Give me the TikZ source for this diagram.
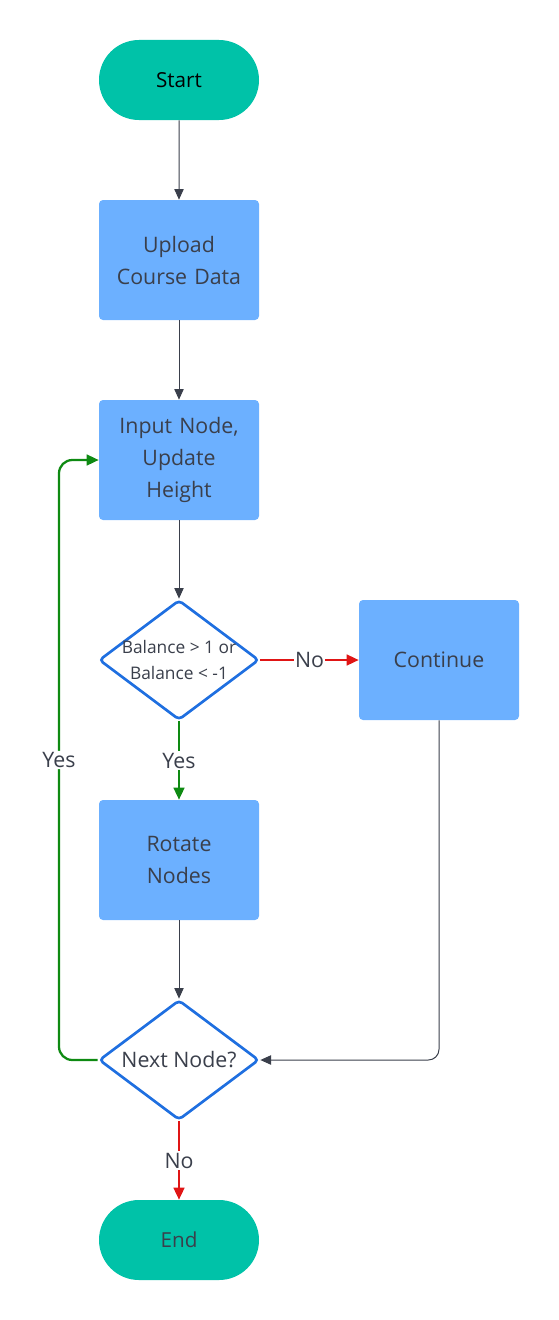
\documentclass[tikz,border=0pt]{standalone}
\usepackage{fontspec}
\setmainfont{Open Sans}
\usetikzlibrary{shapes.geometric,shapes.misc,arrows.meta}
\definecolor{teal}{HTML}{00C2A8}
\definecolor{boxblue}{HTML}{6CB0FF}
\definecolor{dborder}{HTML}{1F6FE0}
\definecolor{txt}{HTML}{3A3F4B}
\definecolor{gline}{HTML}{0E8A12}
\definecolor{rline}{HTML}{E01515}
\tikzset{
  term/.style={rounded rectangle, fill=teal, minimum width=120pt, minimum height=60pt, inner sep=0pt, font=\fontsize{15.5}{18}\selectfont, text=txt},
  procbox/.style={rectangle, rounded corners=3pt, fill=boxblue, minimum width=120pt, minimum height=90pt, inner sep=0pt, text width=115pt, align=center, font=\fontsize{16}{24}\selectfont, text=txt},
  decision/.style={diamond, draw=dborder, line width=2pt, fill=white, rounded corners=3pt, minimum width=120pt, minimum height=90pt, inner sep=0pt},
  dtext/.style={align=center, text=txt, inner sep=0pt},
  conn/.style={draw=txt, line width=0.75pt, -{Triangle[length=8pt,width=7pt]}},
  yesline/.style={draw=gline, line width=1.7pt, -{Triangle[length=9pt,width=8pt]}},
  noline/.style={draw=rline, line width=1.7pt, -{Triangle[length=9pt,width=8pt]}},
  lbl/.style={fill=white, inner sep=1pt, text=txt, font=\fontsize{16}{18}\selectfont},
}
\begin{document}
\begin{tikzpicture}[x=0.75pt,y=-0.75pt]
\useasboundingbox (0,0) rectangle (559,1320);
\node[term, text=black] (start) at (179,80) {Start};
\node[procbox] (upload) at (179,260) {Upload\\Course Data};
\node[procbox] (input) at (179,460) {Input Node,\\Update\\Height};
\node[decision] (bal) at (179,660) {};
\node[dtext, font=\fontsize{13}{19}\selectfont] (baltext) at (bal.center) {Balance > 1 or\\Balance < -1};
\node[procbox] (cont) at (439,660) {Continue};
\node[procbox] (rot) at (179,860) {Rotate\\Nodes};
\node[decision] (next) at (179,1060) {};
\node[dtext, font=\fontsize{16}{18}\selectfont] (nexttext) at (next.center) {Next Node?};
\node[term] (end) at (179,1240) {End};
\coordinate (c1) at (439,1060);
\coordinate (c2) at (59,1060);
\coordinate (c3) at (59,460);

\draw[conn] (start) -- (upload);
\draw[conn] (upload) -- (input);
\draw[conn] (input) -- (bal);
\draw[noline] (bal.east) -- node[lbl]{No} (cont.west);
\draw[yesline] (bal.south) -- node[lbl]{Yes} (rot.north);
\draw[conn] (rot) -- (next);
\draw[conn, rounded corners=8pt] (cont.south) -- (c1) -- (next.east);
\draw[yesline, rounded corners=10pt] (next.west) -- (c2) -- node[lbl, pos=0.5]{Yes} (c3) -- (input.west);
\draw[noline] (next.south) -- node[lbl]{No} (end.north);
\end{tikzpicture}
\end{document}
